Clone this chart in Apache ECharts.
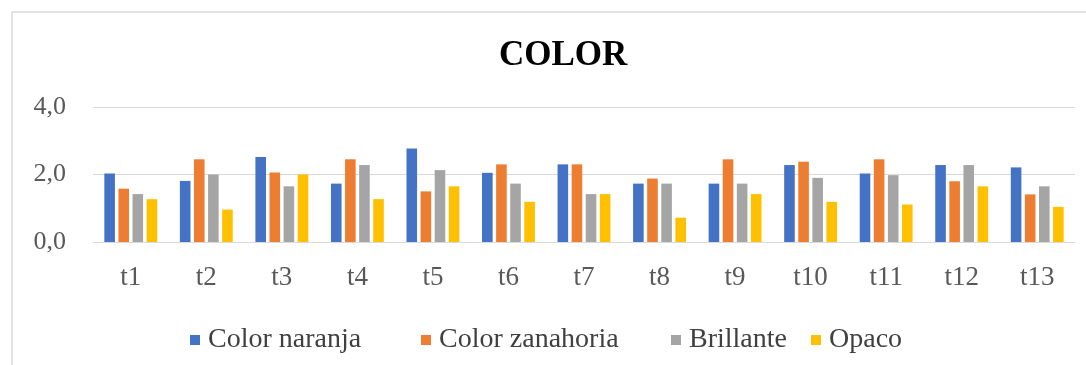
<!DOCTYPE html>
<html>
<head>
<meta charset="utf-8">
<title>COLOR</title>
<script src="https://cdn.jsdelivr.net/npm/echarts@6/dist/echarts.min.js"></script>
<style>
  html, body { margin: 0; padding: 0; background: #ffffff; }
  #chart { width: 1086px; height: 365px; }
</style>
</head>
<body>
<div id="chart"></div>
<script>
// Sensory scores per treatment
const categories = ['t1', 't2', 't3', 't4', 't5', 't6', 't7', 't8', 't9', 't10', 't11', 't12', 't13'];
const colorNaranja   = [2.03, 1.81, 2.52, 1.73, 2.77, 2.05, 2.30, 1.73, 1.73, 2.28, 2.03, 2.28, 2.21];
const colorZanahoria = [1.58, 2.45, 2.06, 2.45, 1.50, 2.30, 2.30, 1.88, 2.45, 2.38, 2.45, 1.80, 1.41];
const brillante      = [1.42, 2.00, 1.65, 2.28, 2.13, 1.73, 1.42, 1.73, 1.73, 1.90, 1.98, 2.28, 1.65];
const opaco          = [1.27, 0.96, 2.00, 1.27, 1.65, 1.19, 1.42, 0.72, 1.42, 1.19, 1.11, 1.65, 1.04];
const seriesNames = ['Color naranja', 'Color zanahoria', 'Brillante', 'Opaco'];
const yTicks = [0, 2, 4];

const FONT = '"Liberation Serif", "Times New Roman", serif';
const palette = ['#4472C4', '#ED7D31', '#A5A5A5', '#FFC000'];
const seriesData = [colorNaranja, colorZanahoria, brillante, opaco];

const chart = echarts.init(document.getElementById('chart'), null, { renderer: 'canvas' });

// one legend per entry so each item sits at its own spot
const legendLefts = [185, 416, 666, 806];
const legends = seriesNames.map((name, i) => ({
  data: [name],
  left: legendLefts[i],
  top: 321,
  itemWidth: 10,
  itemHeight: 10,
  itemGap: 0,
  icon: 'rect',
  textStyle: { fontFamily: FONT, fontSize: 28, color: '#404040', padding: [0, 0, 0, 3] }
}));

chart.setOption({
  animation: false,
  color: palette,
  title: {
    text: 'COLOR',
    left: 494,
    top: 33,
    textStyle: { fontFamily: FONT, fontSize: 35, fontWeight: 'bold', color: '#000000' }
  },
  graphic: [{
    type: 'rect',
    shape: { x: 12, y: 12, width: 1200, height: 500 },
    style: { fill: 'none', stroke: '#d9d9d9', lineWidth: 1.5 },
    silent: true
  }],
  legend: legends,
  grid: { left: 93, right: 11, top: 107, bottom: 123, containLabel: false },
  xAxis: {
    type: 'category',
    data: categories,
    axisLine: { show: true, lineStyle: { color: '#d9d9d9', width: 1 } },
    axisTick: { show: false },
    axisLabel: { fontFamily: FONT, fontSize: 27, color: '#595959', margin: 22 }
  },
  yAxis: {
    type: 'value',
    min: yTicks[0],
    max: yTicks[yTicks.length - 1],
    interval: 2,
    axisLine: { show: false },
    axisTick: { show: false },
    splitLine: { lineStyle: { color: '#d9d9d9', width: 1 } },
    axisLabel: {
      fontFamily: FONT, fontSize: 26, color: '#595959', margin: 27,
      formatter: v => v.toFixed(1).replace('.', ',')
    }
  },
  series: seriesNames.map((name, i) => ({
    name: name,
    type: 'bar',
    data: seriesData[i],
    barGap: '33%',
    barCategoryGap: '30%'
  }))
});
</script>
</body>
</html>
